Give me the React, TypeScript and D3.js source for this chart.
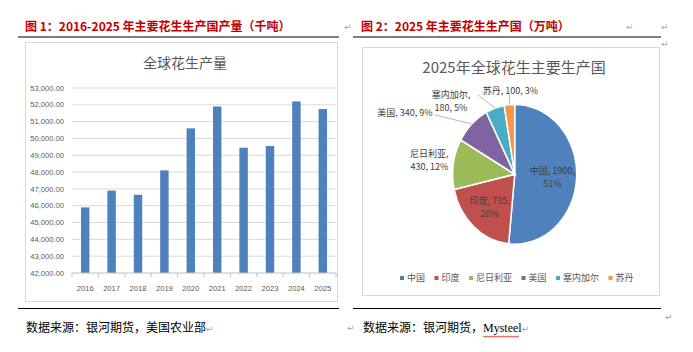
import * as d3 from 'd3'

// 图1 数据：全球花生产量（千吨）
const years = ['2016', '2017', '2018', '2019', '2020', '2021', '2022', '2023', '2024', '2025']
const output = [45900, 46900, 46650, 48100, 50600, 51900, 49450, 49550, 52200, 51750]
const yTicks = [42000, 43000, 44000, 45000, 46000, 47000, 48000, 49000, 50000, 51000, 52000, 53000]

// 图2 数据：2025 年主要生产国（万吨）
const countries = ['中国', '印度', '尼日利亚', '美国', '塞内加尔', '苏丹']
const production = [1900, 735, 430, 340, 180, 100]
const pctLabels = [51, 20, 12, 9, 5, 3]
const colors = ['#4F81BD', '#C0504D', '#9BBB59', '#8064A2', '#4BACC6', '#F79646']

const CJK = '"Noto Sans CJK SC", "Liberation Sans", sans-serif'
const SERIF = '"Liberation Serif", "Noto Sans CJK SC", serif'
const GREY = '#595959'

function BarChart() {
  const x = d3.scaleBand<string>().domain(years).range([72, 336]).paddingInner(0.68).paddingOuter(0.34)
  const y = d3.scaleLinear().domain([42000, 53000]).range([273, 88])
  const fmt = d3.format(',.2f')
  const step = x.step()

  return (
    <g>
      <rect x={25.5} y={42.5} width={312} height={259} fill="#fff" stroke="#D9D9D9" />
      <text x={185} y={68} textAnchor="middle" fontFamily={CJK} fontSize={14} fill={GREY}>全球花生产量</text>
      {yTicks.map(t => (
        <g key={t}>
          {t > 42000 && <line x1={72} x2={336} y1={y(t)} y2={y(t)} stroke="#D9D9D9" />}
          <text x={64} y={y(t)} dy="0.35em" textAnchor="end" fontFamily="Liberation Sans, sans-serif" fontSize={7.6} fill={GREY}>{fmt(t)}</text>
        </g>
      ))}
      {years.map((yr, i) => (
        <rect key={yr} x={x(yr)} y={y(output[i])} width={x.bandwidth()} height={y(42000) - y(output[i])} fill="#4F81BD" />
      ))}
      <line x1={72} x2={336} y1={273} y2={273} stroke="#BFBFBF" />
      {d3.range(years.length + 1).map(i => (
        <line key={i} x1={72 + i * step} x2={72 + i * step} y1={273} y2={277} stroke="#BFBFBF" />
      ))}
      {years.map(yr => (
        <text key={yr} x={(x(yr) ?? 0) + x.bandwidth() / 2} y={288} dy="0.35em" textAnchor="middle" fontFamily="Liberation Sans, sans-serif" fontSize={7.6} fill={GREY}>{yr}</text>
      ))}
    </g>
  )
}

// 外部标签布局（相对扇区外缘点的偏移）
const outerLayout: Record<string, { dx: number; dy: number; lx: number; ly: number; anchor: string; leader: boolean }> = {
  '尼日利亚': { dx: -24, dy: -7, lx: 0, ly: 0, anchor: 'middle', leader: false },
  '美国': { dx: -39, dy: -11, lx: -37, ly: -9, anchor: 'end', leader: true },
  '塞内加尔': { dx: -44, dy: -9.5, lx: -17, ly: -13, anchor: 'middle', leader: true },
  '苏丹': { dx: 1, dy: -14, lx: 0, ly: -11, anchor: 'middle', leader: true },
}

function PieChart() {
  const cx = 514.7
  const cy = 174.3
  const r = 62
  const sy = 70 / 62
  const total = d3.sum(production)
  const pie = d3.pie<number>().sort(null).value(d => d).startAngle(0).endAngle(2 * Math.PI)
  const arcs = pie(production)
  const arc = d3.arc<d3.PieArcDatum<number>>().innerRadius(0).outerRadius(r)
  const labelArc = d3.arc<d3.PieArcDatum<number>>().innerRadius(r * 0.62).outerRadius(r * 0.62)

  // 图例位置
  const itemW = countries.map(c => 16.5 + c.length * 9)
  const legendW = d3.sum(itemW) - 9
  let lx = 517 - legendW / 2

  return (
    <g>
      <rect x={362.5} y={47.5} width={297} height={248} fill="#fff" stroke="#D9D9D9" />
      <text x={514} y={68} dy="0.35em" textAnchor="middle" fontFamily={CJK} fontSize={15} fill={GREY}>2025年全球花生主要生产国</text>
      <g transform={`translate(${cx},${cy}) scale(1,${sy})`}>
        {arcs.map((a, i) => (
          <path key={i} d={arc(a) ?? ''} fill={colors[i]} stroke="#fff" strokeWidth={1.5} />
        ))}
      </g>
      {arcs.map((a, i) => {
        const name = countries[i]
        const v = production[i]
        const p = pctLabels[i]
        const mid = (a.startAngle + a.endAngle) / 2
        if (v / total > 0.15) {
          const [px, py] = labelArc.centroid(a)
          const tx = cx + px * 0.98
          const ty = cy + py * sy
          return (
            <text key={name} x={tx} y={ty} textAnchor="middle" fontFamily={CJK} fontSize={9} fill="#404040">
              <tspan x={tx} dy="-0.3em">{`${name}, ${v},`}</tspan>
              <tspan x={tx} dy="1.45em">{`${p}%`}</tspan>
            </text>
          )
        }
        const ex = cx + r * Math.sin(mid)
        const ey = cy - r * sy * Math.cos(mid)
        const L = outerLayout[name]
        const tx = ex + L.dx
        const ty = ey + L.dy
        const twoLine = name.length > 2
        return (
          <g key={name}>
            {L.leader && <line x1={ex} y1={ey} x2={ex + L.lx} y2={ey + L.ly} stroke="#A6A6A6" strokeWidth={0.8} />}
            {twoLine ? (
              <text x={tx} y={ty} textAnchor={L.anchor} fontFamily={CJK} fontSize={9} fill="#404040">
                <tspan x={tx} dy="0">{`${name},`}</tspan>
                <tspan x={tx} dy="1.45em">{`${v}, ${p}%`}</tspan>
              </text>
            ) : (
              <text x={tx} y={ty} dy="0.35em" textAnchor={L.anchor} fontFamily={CJK} fontSize={9} fill="#404040">{`${name}, ${v}, ${p}%`}</text>
            )}
          </g>
        )
      })}
      {countries.map((c, i) => {
        const x0 = lx
        lx += itemW[i]
        return (
          <g key={c}>
            <rect x={x0} y={276} width={4} height={4} fill={colors[i]} />
            <text x={x0 + 7} y={278} dy="0.35em" fontFamily={CJK} fontSize={9} fill={GREY}>{c}</text>
          </g>
        )
      })}
    </g>
  )
}

function Mark({ x, y }: { x: number; y: number }) {
  return <text x={x} y={y} dy="0.35em" fontFamily="DejaVu Sans, sans-serif" fontSize={9} fill="#A6A6A6">↵</text>
}

const markStyle = { fontFamily: 'DejaVu Sans, sans-serif', fontSize: 9, fill: '#A6A6A6' }

export default function App() {
  return (
    <svg width={693} height={352} style={{ position: 'absolute', left: 0, top: 0, background: '#fff' }}>
      {/* 标题 */}
      <text x={25} y={27} dy="0.35em" fontFamily={CJK} fontSize={12} fontWeight="bold" fill="#C00000">图 1：2016-2025 年主要花生生产国产量（千吨）</text>
      <text x={361} y={27} dy="0.35em" fontFamily={CJK} fontSize={12} fontWeight="bold" fill="#C00000">图 2：2025 年主要花生生产国（万吨）</text>
      <line x1={18} x2={339} y1={37} y2={37} stroke="#000" strokeWidth={1.2} />
      <line x1={353} x2={661} y1={37} y2={37} stroke="#000" strokeWidth={1.2} />
      <Mark x={344} y={27} />
      <Mark x={626} y={27} />
      <Mark x={661} y={27} />
      <Mark x={661} y={44} />

      <BarChart />
      <PieChart />

      <line x1={18} x2={339} y1={308.5} y2={308.5} stroke="#000" strokeWidth={1.2} />
      <line x1={353} x2={661} y1={308.5} y2={308.5} stroke="#000" strokeWidth={1.2} />
      <Mark x={665} y={317} />

      {/* 数据来源 */}
      <text x={26} y={328} dy="0.35em" fontFamily={SERIF} fontSize={12} fill="#000">
        数据来源：银河期货，美国农业部<tspan style={markStyle}>↵</tspan>
      </text>
      <Mark x={347} y={328} />
      <text x={363} y={328} dy="0.35em" fontFamily={SERIF} fontSize={12} fill="#000">
        数据来源：银河期货，Mysteel<tspan style={markStyle}>↵</tspan>
      </text>
      <path d={d3.range(0, 38, 2).map((d, i) => `${i === 0 ? 'M' : 'L'}${483 + d},${336 + (i % 2 ? 1.2 : 0)}`).join('')} fill="none" stroke="#E00000" strokeWidth={0.8} />
    </svg>
  )
}
